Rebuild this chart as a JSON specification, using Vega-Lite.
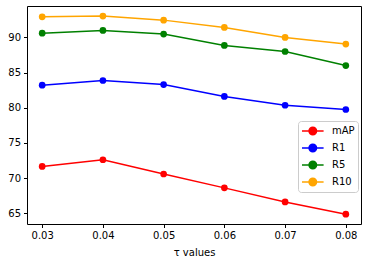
{
  "$schema": "https://vega.github.io/schema/vega-lite/v6.json",
  "autosize": "none",
  "width": 334,
  "height": 218,
  "padding": {"left": 27, "top": 6, "right": 7, "bottom": 40},
  "background": "white",
  "config": {
    "font": "DejaVu Sans",
    "view": {"stroke": "black", "strokeWidth": 1},
    "axis": {"grid": false, "domain": false, "tickColor": "black", "tickSize": 3.5, "labelFontSize": 10, "labelColor": "black", "labelFont": "DejaVu Sans", "titleFont": "DejaVu Sans", "titleFontWeight": "normal", "titleFontSize": 10, "titleColor": "black", "labelPadding": 3}
  },
  "data": {"values": [
    {"tau": 0.03, "metric": "mAP", "value": 71.65},
    {"tau": 0.04, "metric": "mAP", "value": 72.6},
    {"tau": 0.05, "metric": "mAP", "value": 70.57},
    {"tau": 0.06, "metric": "mAP", "value": 68.6},
    {"tau": 0.07, "metric": "mAP", "value": 66.6},
    {"tau": 0.08, "metric": "mAP", "value": 64.85},
    {"tau": 0.03, "metric": "R1", "value": 83.2},
    {"tau": 0.04, "metric": "R1", "value": 83.87},
    {"tau": 0.05, "metric": "R1", "value": 83.3},
    {"tau": 0.06, "metric": "R1", "value": 81.6},
    {"tau": 0.07, "metric": "R1", "value": 80.35},
    {"tau": 0.08, "metric": "R1", "value": 79.75},
    {"tau": 0.03, "metric": "R5", "value": 90.6},
    {"tau": 0.04, "metric": "R5", "value": 91.0},
    {"tau": 0.05, "metric": "R5", "value": 90.47},
    {"tau": 0.06, "metric": "R5", "value": 88.86},
    {"tau": 0.07, "metric": "R5", "value": 88.0},
    {"tau": 0.08, "metric": "R5", "value": 86.0},
    {"tau": 0.03, "metric": "R10", "value": 92.93},
    {"tau": 0.04, "metric": "R10", "value": 93.03},
    {"tau": 0.05, "metric": "R10", "value": 92.46},
    {"tau": 0.06, "metric": "R10", "value": 91.42},
    {"tau": 0.07, "metric": "R10", "value": 90.0},
    {"tau": 0.08, "metric": "R10", "value": 89.05}
  ]},
  "encoding": {
    "x": {"field": "tau", "type": "quantitative", "scale": {"domain": [0.0275, 0.0825], "nice": false, "zero": false},
      "axis": {"values": [0.03, 0.04, 0.05, 0.06, 0.07, 0.08], "format": ".2f", "title": "τ values", "titlePadding": 7}},
    "y": {"field": "value", "type": "quantitative", "scale": {"domain": [63.46, 94.47], "nice": false, "zero": false},
      "axis": {"values": [65, 70, 75, 80, 85, 90], "title": null}},
    "color": {"field": "metric", "type": "nominal",
      "scale": {"domain": ["mAP", "R1", "R5", "R10"], "range": ["red", "blue", "green", "orange"]},
      "legend": {"orient": "none", "legendX": 271, "legendY": 115, "title": null, "padding": 3, "strokeColor": "#cccccc", "fillColor": "white", "cornerRadius": 3, "labelFontSize": 10, "labelColor": "black", "rowPadding": 3, "symbolSize": 144, "symbolType": "M-1,0L2.6,0M0.175,0A0.625,0.625 0 1,1 1.425,0A0.625,0.625 0 1,1 0.175,0Z", "symbolStrokeWidth": 1.5, "symbolOpacity": 1, "labelOffset": 17}
    }
  },
  "layer": [
    {"mark": {"type": "line", "strokeWidth": 1.5}},
    {"mark": {"type": "point", "filled": true, "size": 45, "opacity": 1}}
  ]
}
